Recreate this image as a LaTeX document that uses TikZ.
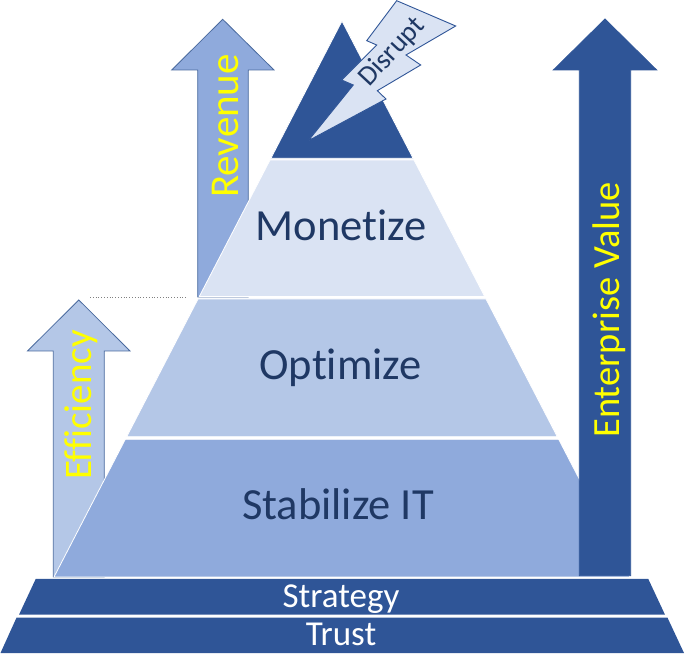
\documentclass[tikz,border=0pt]{standalone}
\usepackage{fontspec}
\setmainfont{Carlito}[Ligatures={NoCommon}]
\definecolor{dkblue}{HTML}{2F5597}
\definecolor{midblue}{HTML}{8FAADC}
\definecolor{lightblue}{HTML}{B4C7E7}
\definecolor{paleblue}{HTML}{DAE3F3}
\definecolor{navytext}{HTML}{1F3864}
\definecolor{edgeblue}{HTML}{4A6A9E}
\definecolor{yel}{HTML}{FFFF00}
\begin{document}
\begin{tikzpicture}[x=1pt,y=-1pt,
  band/.style={draw=white,line width=0.8pt},
  arrowshape/.style={draw=edgeblue,line width=0.8pt,line join=miter},
  tierlabel/.style={text=navytext,anchor=base,inner sep=0pt,font=\fontsize{44.5}{44.5}\selectfont},
  baselabel/.style={text=white,anchor=base,inner sep=0pt,font=\fontsize{35}{35}\selectfont},
  arrowlabel/.style={text=yel,anchor=base,inner sep=0pt,rotate=90}]
\useasboundingbox (0,0) rectangle (689,660);
% Revenue arrow (behind pyramid)
\filldraw[arrowshape,fill=midblue] (222.7,19.3) -- (274,70) -- (248.3,70) -- (248.3,297) -- (197.7,297) -- (197.7,70) -- (171.7,70) -- cycle;
% Efficiency arrow
\filldraw[arrowshape,fill=lightblue] (78.8,300) -- (130,351) -- (104.3,351) -- (104.3,577) -- (53.3,577) -- (53.3,351) -- (27.5,351) -- cycle;
% Pyramid tiers
\filldraw[band,fill=dkblue] (342,21) -- (413.1,158.3) -- (270.9,158.3) -- cycle;
\filldraw[band,fill=paleblue] (270,160) -- (414,160) -- (484.7,296.5) -- (199.3,296.5) -- cycle;
\filldraw[band,fill=lightblue] (198,299) -- (486,299) -- (557.3,436.7) -- (126.7,436.7) -- cycle;
\filldraw[band,fill=midblue] (125.3,439.3) -- (558.7,439.3) -- (630,577) -- (54,577) -- cycle;
% dotted artefact
\coordinate (dotA) at (90,297);
\coordinate (dotB) at (186,297);
\draw[gray,dotted,line width=0.8pt] (dotA) -- (dotB);
% Enterprise value arrow
\filldraw[draw=dkblue,line width=0.8pt,fill=dkblue] (605,19) -- (656.7,70) -- (630.7,70) -- (630.7,575.7) -- (579.3,575.7) -- (579.3,70) -- (553.3,70) -- cycle;
% Base bands
\fill[dkblue] (35.7,579) -- (648.3,579) -- (665,614.7) -- (19,614.7) -- cycle;
\fill[dkblue] (16.5,617.7) -- (667.5,617.7) -- (684,653) -- (0.5,653) -- cycle;
% Lightning bolt
\filldraw[draw=dkblue,line width=0.9pt,fill=paleblue,line join=miter]
  (396.7,0.7) -- (455.7,26) -- (406,55) -- (420.7,65) -- (377.3,90.7) -- (386,99)
  -- (308.3,140.7) -- (353.3,85) -- (341.7,80) -- (376.7,45) -- (366.7,40.7) -- cycle;
% Labels
\node[tierlabel] (monetize) at (341,240.7) {Monetize};
\node[tierlabel] (optimize) at (340.5,379.5) {Optimize};
\node[tierlabel] (stabilize) at (338,519.3) {Stabilize IT};
\node[baselabel] (strategy) at (341,607.3) {Strategy};
\node[baselabel] (trust) at (341,645) {Trust};
\node[arrowlabel,font=\fontsize{41}{41}\selectfont] (revenue) at (238.3,126) {Revenue};
\node[arrowlabel,font=\fontsize{39}{39}\selectfont] (efficiency) at (91.7,405) {Efficiency};
\node[arrowlabel,font=\fontsize{38.5}{38.5}\selectfont] (entvalue) at (619.3,310) {Enterprise Value};
\node[text=navytext,inner sep=0pt,rotate=47,font=\fontsize{28}{28}\selectfont] (disrupt) at (392,52) {Disrupt};
\end{tikzpicture}
\end{document}
